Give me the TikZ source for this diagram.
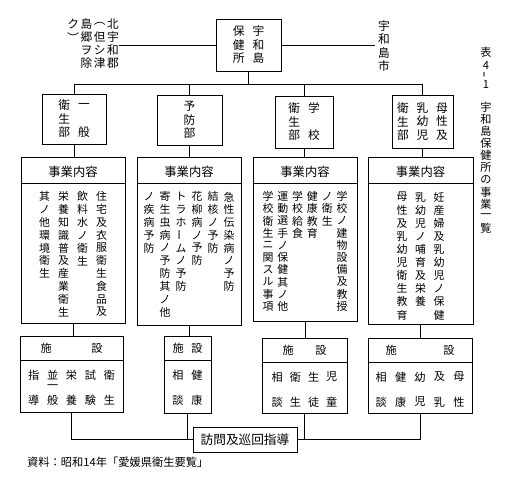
\documentclass[tikz,border=0pt]{standalone}
\usepackage{fontspec}
\newfontfamily\jp{Noto Sans CJK JP}
\usetikzlibrary{calc,fit}

% one pixel of the scan
\newdimen\tatepx \tatepx=0.03cm
\ExplSyntaxOn
% vertical column: one character per slot of #1 px
\NewDocumentCommand\tate{O{12.8}m}
  {
    \tl_set:No \l_tmpa_tl {#2}
    \vtop
      {
        \offinterlineskip
        \tl_map_inline:Nn \l_tmpa_tl
          {
            \hbox_to_wd:nn {1em}
              { \hss \vbox_to_ht:nn {#1\tatepx} { \vss \hbox:n {##1} \vss } \hss }
          }
      }
  }
% columns read from right to left, #2 px apart
\NewDocumentCommand\tatecols{O{12.8}mm}
  {
    \seq_set_from_clist:Nn \l_tmpa_seq {#3}
    \seq_reverse:N \l_tmpa_seq
    \hbox:n
      {
        \seq_map_inline:Nn \l_tmpa_seq { \tate[#1]{##1} \kern #2\tatepx }
        \unkern
      }
  }
\ExplSyntaxOff
\newcommand{\chouon}{{\rotatebox[origin=c]{90}{ー}}}
\newcommand{\tatebar}{{\rotatebox[origin=c]{90}{\scalebox{0.5}[1]{ー}}}}

\begin{document}
\begin{tikzpicture}[
  x=0.03cm, y=-0.03cm,
  font=\jp,
  frame/.style={draw, line width=0.7pt, inner sep=0pt},
  org/.style={inner sep=0pt, font=\jp\fontsize{10}{10}\selectfont},
  col/.style={inner sep=0pt, anchor=north, font=\jp\fontsize{9.3}{9.3}\selectfont},
  hd/.style={inner sep=0pt, font=\jp\fontsize{10.5}{10.5}\selectfont},
  fac/.style={inner sep=0pt, font=\jp\fontsize{9.5}{9.5}\selectfont},
  ttl/.style={inner sep=0pt, font=\jp\fontsize{9.5}{9.5}\selectfont},
  link/.style={line width=0.7pt}
]
\useasboundingbox (0,0) rectangle (513,480);

% head office
\node[frame, fit={(216,19)(281,71)}] (hq) {};
\node[org] (hqt) at (hq.center) {\tatecols[13.5]{8}{宇和島,保健所}};
\node[org, anchor=north east] (kita) at (119,17.5)
  {\tatecols[13]{1.5}{北宇和郡,︵但シ津,島郷ヲ除,ク︶}};
\node[org, anchor=north] (shi) at (384,19) {\tate[13.5]{宇和島市}};
\draw[link] (hq.west) -- (hq.west -| kita.east);
\draw[link] (hq.east) -- ([xshift=-0.1cm]hq.east -| shi.west);

% departments
\node[frame, fit={(42,94)(106,144)}] (gen) {};
\node[frame, fit={(157,95)(222,145)}] (yobo) {};
\node[frame, fit={(275,96)(333,148)}] (gakko) {};
\node[frame, fit={(392,95)(453,148)}] (boshi) {};
\node[org] (gent) at (gen.center) {\tatecols[13.5]{8}{一　般,衛生部}};
\node[org] (yobot) at (yobo.center) {\tate[13.5]{予防部}};
\node[org] (gakkot) at (gakko.center) {\tatecols[13.5]{8}{学　校,衛生部}};
\node[org] (boshit) at (boshi.center) {\tatecols[13.5]{7.7}{母性及,乳幼児,衛生部}};

\coordinate (bus) at (0,84);
\draw[link] (hq.south) -- (hq.south |- bus);
\draw[link] (gen.north |- bus) -- (boshi.north |- bus);
\foreach \b in {gen,yobo,gakko,boshi}
  \draw[link] (\b.north |- bus) -- (\b.north);

% work contents
\node[frame, fit={(21,157)(125,323)}] (acta) {};
\node[frame, fit={(137,157)(241,325)}] (actb) {};
\node[frame, fit={(253,157)(357,321)}] (actc) {};
\node[frame, fit={(368,157)(473,324)}] (actd) {};
\foreach \b in {acta,actb,actc,actd} {
  \node[hd] (\b h) at ($(\b.north)+(0,15.5)$) {事業内容};
  \draw[link] ($(\b.north west)+(0,26.5)$) -- ($(\b.north east)+(0,26.5)$);
}
\node[col] (actab) at ($(acta.north)+(0,33.6)$)
  {\tatecols{8.1}{住宅及衣服衛生食品及,飲料水ノ衛生,栄養知識普及産業衛生,其ノ他環境衛生}};
\node[col] (actbb) at ($(actb.north)+(0,33.6)$)
  {\tatecols{5.1}{急性伝染病ノ予防,結核ノ予防,花柳病ノ予防,トラホ\chouon ムノ予防,寄生虫病ノ予防其ノ他,ノ疾病予防}};
\node[col] (actcb) at ($(actc.north)+(0,33.6)$)
  {\tatecols[12.2]{3.9}{学校ノ建物設備及教授,ノ衛生,健康教育,学校給食,運動選手ノ保健其ノ他,学校衛生ニ関スル事項}};
\node[col] (actdb) at ($(actd.north)+(0,33.6)$)
  {\tatecols[13.1]{7.6}{妊産婦及乳幼児ノ保健,乳幼児ノ哺育及栄養,母性及乳幼児衛生教育}};

\foreach \a/\b in {gen/acta, yobo/actb, gakko/actc, boshi/actd}
  \draw[link] (\a.south) -- (\a.south |- \b.north);

% facilities
\node[frame, fit={(20,336)(123,412)}] (fa) {};
\node[frame, fit={(164,336)(211,413)}] (fb) {};
\node[frame, fit={(262,338)(347,413)}] (fc) {};
\node[frame, fit={(368,338)(472,413)}] (fd) {};
\foreach \b/\g in {fa/1.19, fb/0.23, fc/0.65, fd/1.40} {
  \node[fac] (\b h) at ($(\b.north)+(0,13)$) {施\hspace{\g cm}設};
  \draw[link] ($(\b.north west)+(0,25)$) -- ($(\b.north east)+(0,25)$);
}
\node[fac, anchor=north] (fab) at ($(fa.north)+(0,32.75)$)
  {\tatecols[12.5]{7.8}{衛　生,試　験,栄　養,並一般,指　導}};
\node[fac, anchor=north] (fbb) at ($(fb.north)+(0,32.75)$)
  {\tatecols[12.5]{7.8}{健　康,相　談}};
\node[fac, anchor=north] (fcb) at ($(fc.north)+(0,32.75)$)
  {\tatecols[12.5]{7}{児　童,生　徒,衛　生,相　談}};
\node[fac, anchor=north] (fdb) at ($(fd.north)+(0,32.75)$)
  {\tatecols[12.5]{8.3}{母　性,及　乳,幼　児,健　康,相　談}};

\foreach \a/\b in {acta/fa, actb/fb, actc/fc, actd/fd}
  \draw[link] (\a.south) -- (\a.south |- \b.north);

% visiting guidance
\node[frame, fit={(193,427)(297,452)}] (visit) {};
\node[inner sep=0pt, font=\jp\fontsize{10.8}{10.8}\selectfont] (visitt) at (visit.center) {訪問及巡回指導};
\draw[link] (fa.south) |- (visit.west);
\draw[link] (fb.south) -- (fb.south |- visit.west);
\draw[link] (fd.south) |- (visit.east);
\draw[link] (fc.south) -- (fc.south |- visit.east);

% title and source
\node[ttl] (tno) at (486,52) {表};
\node[ttl, anchor=north] (tnum) at (486,60.25) {\tate[9.5]{4\tatebar 1}};
\node[ttl, anchor=north] (tname) at (486,101) {\tate[12.1]{宇和島保健所の事業一覧}};
\node[inner sep=0pt, anchor=west, font=\jp\fontsize{9.6}{9.6}\selectfont] (src) at (27,462)
  {資料：昭和14年「愛媛県衛生要覧」};
\end{tikzpicture}
\end{document}
